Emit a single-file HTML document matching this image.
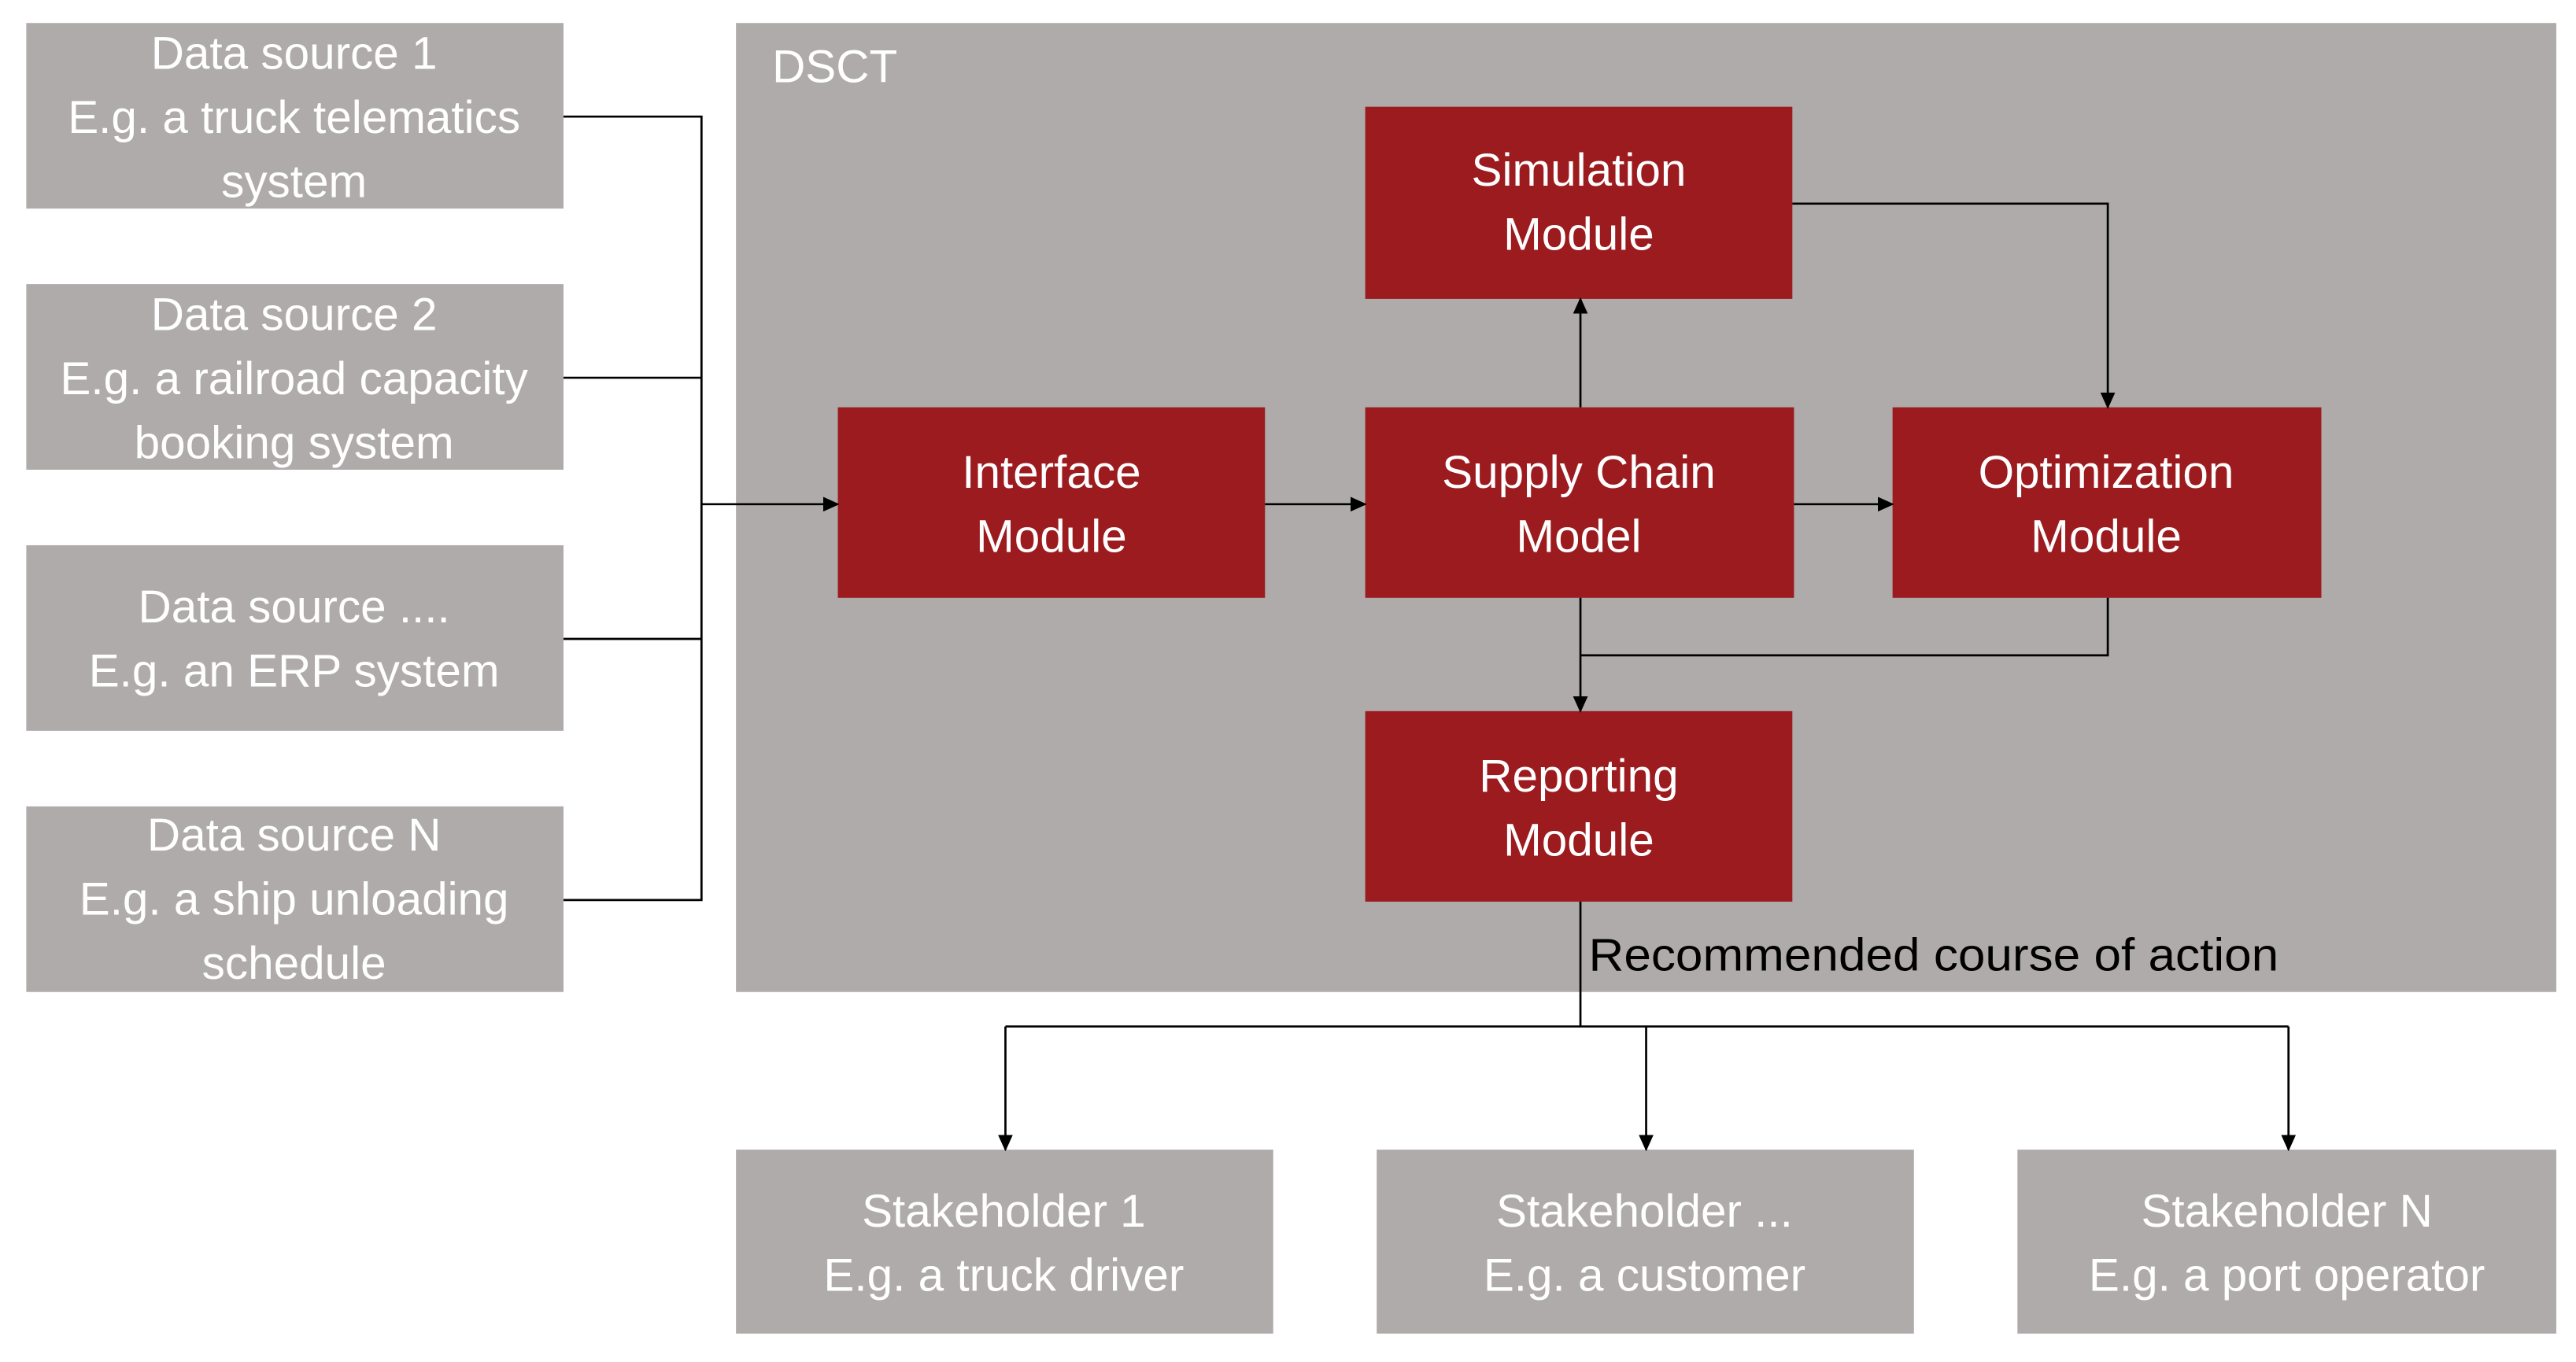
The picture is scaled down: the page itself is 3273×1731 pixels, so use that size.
<!DOCTYPE html>
<html><head><meta charset="utf-8"><style>
html,body{margin:0;padding:0;background:#fff;width:3273px;height:1731px;overflow:hidden}
svg{display:block}
text{font-family:"Liberation Sans",sans-serif;font-size:28px;text-anchor:middle}
.w{fill:#fff}
</style></head><body>
<svg width="3273" height="1731" viewBox="0 0 1568 829.3" preserveAspectRatio="none" xmlns="http://www.w3.org/2000/svg">
<defs><marker id="a" markerWidth="10" markerHeight="10" refX="9" refY="5" orient="auto" markerUnits="userSpaceOnUse"><path d="M0,0.5 L10,5 L0,9.5z" fill="#000"/></marker></defs>
<g fill="#AFABAB">
<rect x="16" y="14" width="327" height="113"/>
<rect x="16" y="173" width="327" height="113"/>
<rect x="16" y="332" width="327" height="113"/>
<rect x="16" y="491" width="327" height="113"/>
<rect x="448" y="14" width="1108" height="590"/>
<rect x="448" y="700" width="327" height="112"/>
<rect x="838" y="700" width="327" height="112"/>
<rect x="1228" y="700" width="328" height="112"/>
</g>
<g fill="#9B1B1F">
<rect x="831" y="65" width="260" height="117"/>
<rect x="510" y="248" width="260" height="116"/>
<rect x="831" y="248" width="261" height="116"/>
<rect x="1152" y="248" width="261" height="116"/>
<rect x="831" y="433" width="260" height="116"/>
</g>
<g stroke="#000" stroke-width="1.3" fill="none">
<polyline points="343,71 427,71 427,548 343,548"/>
<line x1="343" y1="230" x2="427" y2="230"/>
<line x1="343" y1="389" x2="427" y2="389"/>
<line x1="427" y1="307" x2="510" y2="307" marker-end="url(#a)"/>
<line x1="770" y1="307" x2="831" y2="307" marker-end="url(#a)"/>
<line x1="1092" y1="307" x2="1152" y2="307" marker-end="url(#a)"/>
<line x1="962" y1="248" x2="962" y2="182" marker-end="url(#a)"/>
<polyline points="1091,124 1283,124 1283,248" marker-end="url(#a)"/>
<line x1="962" y1="364" x2="962" y2="433" marker-end="url(#a)"/>
<polyline points="1283,364 1283,399 962,399"/>
<polyline points="962,549 962,625"/>
<line x1="612" y1="625" x2="1393" y2="625"/>
<line x1="612" y1="625" x2="612" y2="700" marker-end="url(#a)"/>
<line x1="1002" y1="625" x2="1002" y2="700" marker-end="url(#a)"/>
<line x1="1393" y1="625" x2="1393" y2="700" marker-end="url(#a)"/>
</g>
<g class="w">
<text x="179" y="42">Data source 1</text><text x="179" y="81">E.g. a truck telematics</text><text x="179" y="120">system</text>
<text x="179" y="201">Data source 2</text><text x="179" y="240">E.g. a railroad capacity</text><text x="179" y="279">booking system</text>
<text x="179" y="379">Data source ....</text><text x="179" y="418">E.g. an ERP system</text>
<text x="179" y="518">Data source N</text><text x="179" y="557">E.g. a ship unloading</text><text x="179" y="596">schedule</text>
<text x="470" y="50" style="text-anchor:start">DSCT</text>
<text x="961" y="113">Simulation</text><text x="961" y="152">Module</text>
<text x="640" y="297">Interface</text><text x="640" y="336">Module</text>
<text x="961" y="297">Supply Chain</text><text x="961" y="336">Model</text>
<text x="1282" y="297">Optimization</text><text x="1282" y="336">Module</text>
<text x="961" y="482">Reporting</text><text x="961" y="521">Module</text>
<text x="611" y="747">Stakeholder 1</text><text x="611" y="786">E.g. a truck driver</text>
<text x="1001" y="747">Stakeholder ...</text><text x="1001" y="786">E.g. a customer</text>
<text x="1392" y="747">Stakeholder N</text><text x="1392" y="786">E.g. a port operator</text>
</g>
<text x="967" y="591" style="text-anchor:start" fill="#000" textLength="420" lengthAdjust="spacingAndGlyphs">Recommended course of action</text>
</svg>
</body></html>
